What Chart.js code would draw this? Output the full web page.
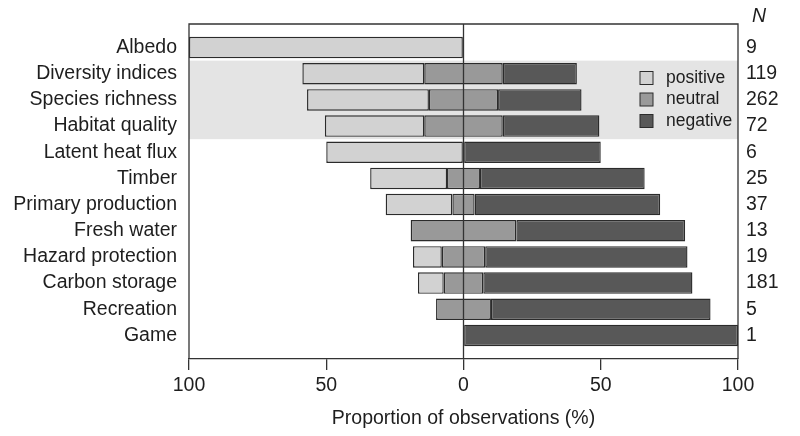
<!DOCTYPE html>
<html>
<head>
<meta charset="utf-8">
<script src="https://cdn.jsdelivr.net/npm/chart.js@4/dist/chart.umd.min.js"></script>
<style>
  body { margin: 0; background: #fff; }
</style>
</head>
<body>
<canvas id="chart" width="800" height="436"></canvas>
<script>
// data (percent of observations per service)
const categories = ["Albedo", "Diversity indices", "Species richness", "Habitat quality",
  "Latent heat flux", "Timber", "Primary production", "Fresh water",
  "Hazard protection", "Carbon storage", "Recreation", "Game"];
const positive = [100, 44.4, 44.4, 36.2, 50, 28, 24.3, 0, 10.5, 9.4, 0, 0];
const neutral = [0, 28.6, 25.2, 28.6, 0, 12, 8.1, 38.5, 15.8, 14.4, 20, 0];
const negative = [0, 27.0, 30.4, 35.2, 50, 60, 67.6, 61.5, 73.7, 76.2, 80, 100];
const nObs = [9, 119, 262, 72, 6, 25, 37, 13, 19, 181, 5, 1];
const xTicks = [-100, -50, 0, 50, 100];
const shadedRows = [1, 3]; // rows sitting on the grey band

const colPos = "#d2d2d2";
const colNeu = "#999999";
const colNeg = "#585858";
const edge = "#2b2b2b";
const font = "'Liberation Sans', Arial, sans-serif";
const fs = 19.5;

// diverging layout: positive to the left, neutral split over zero, negative to the right
const posData = [], neuData = [], negData = [];
categories.forEach((c, i) => {
  const h = neutral[i] / 2;
  if (positive[i] > 0) posData.push({ y: i, x: [-(h + positive[i]), -h] });
  if (neutral[i] > 0) neuData.push({ y: i, x: [-h, h] });
  if (negative[i] > 0) negData.push({ y: i, x: [h, h + negative[i]] });
});

const rowTicks = (scale) => {
  scale.ticks = categories.map((c, i) => ({ value: i }));
};

const decor = {
  id: "decor",
  beforeDatasetsDraw(chart) {
    const { ctx, chartArea: a, scales: { y } } = chart;
    ctx.save();
    ctx.fillStyle = "#e4e4e4";
    const y0 = y.getPixelForValue(shadedRows[0] - 0.5);
    const y1 = y.getPixelForValue(shadedRows[1] + 0.5);
    ctx.fillRect(a.left, y0, a.right - a.left, y1 - y0);
    ctx.restore();
  },
  afterDatasetsDraw(chart) {
    const { ctx, chartArea: a, scales: { x } } = chart;
    ctx.save();
    ctx.strokeStyle = "#333";
    ctx.lineWidth = 1.3;
    // frame
    ctx.beginPath();
    ctx.moveTo(a.left, a.bottom);
    ctx.lineTo(a.left, a.top);
    ctx.lineTo(a.right, a.top);
    ctx.lineTo(a.right, a.bottom);
    ctx.stroke();
    // zero line
    const x0 = x.getPixelForValue(0);
    ctx.beginPath();
    ctx.moveTo(x0, a.top);
    ctx.lineTo(x0, a.bottom);
    ctx.stroke();

    // legend in the grey band
    const items = [["positive", colPos], ["neutral", colNeu], ["negative", colNeg]];
    ctx.font = "17.5px " + font;
    ctx.textBaseline = "middle";
    ctx.textAlign = "left";
    items.forEach(([label, col], k) => {
      const cy = 78 + k * 21.5;
      ctx.fillStyle = col;
      ctx.fillRect(640, cy - 6.5, 13, 13);
      ctx.lineWidth = 1;
      ctx.strokeStyle = edge;
      ctx.strokeRect(640, cy - 6.5, 13, 13);
      ctx.fillStyle = "#1e1e1e";
      ctx.fillText(label, 666, cy);
    });

    // N header
    ctx.font = "italic " + fs + "px " + font;
    ctx.textAlign = "center";
    ctx.fillText("N", 759, 17);
    ctx.restore();
  }
};

const barStyle = {
  borderColor: edge,
  borderWidth: 1.4,
  borderSkipped: false,
  grouped: false,
  categoryPercentage: 1,
  barPercentage: 0.82
};

const rowAxis = (pos, width, pad, labels) => ({
  type: "linear",
  position: pos,
  reverse: true,
  offset: false,
  min: -0.9,
  max: 11.9,
  afterBuildTicks: rowTicks,
  afterFit: (s) => { s.width = width; },
  grid: { display: false, drawTicks: false, offset: false },
  border: { display: false },
  ticks: {
    color: "#1e1e1e",
    font: { family: font, size: fs },
    padding: pad,
    autoSkip: false,
    callback: (v) => labels[v]
  }
});

new Chart(document.getElementById("chart"), {
  type: "bar",
  data: {
    datasets: [
      { label: "positive", data: posData, backgroundColor: colPos, ...barStyle },
      { label: "neutral", data: neuData, backgroundColor: colNeu, ...barStyle },
      { label: "negative", data: negData, backgroundColor: colNeg, ...barStyle }
    ]
  },
  options: {
    indexAxis: "y",
    responsive: false,
    animation: false,
    layout: { padding: { top: 24, left: 0, right: 0, bottom: 0 } },
    plugins: { legend: { display: false }, tooltip: { enabled: false } },
    scales: {
      x: {
        type: "linear",
        min: -100,
        max: 100,
        afterBuildTicks: (s) => { s.ticks = xTicks.map((v) => ({ value: v })); },
        afterFit: (s) => { s.height = 77; },
        grid: { display: true, drawOnChartArea: false, tickLength: 11, color: "#333", lineWidth: 1.3 },
        border: { display: true, color: "#333", width: 1.3 },
        ticks: {
          color: "#1e1e1e",
          font: { family: font, size: fs },
          padding: 4,
          callback: (v) => Math.abs(v)
        },
        title: {
          display: true,
          text: "Proportion of observations (%)",
          color: "#1e1e1e",
          font: { family: font, size: fs },
          padding: { top: 4, bottom: 6 }
        }
      },
      y: rowAxis("left", 189, 12, categories),
      n: rowAxis("right", 62, 8, nObs)
    }
  },
  plugins: [decor]
});
</script>
</body>
</html>
